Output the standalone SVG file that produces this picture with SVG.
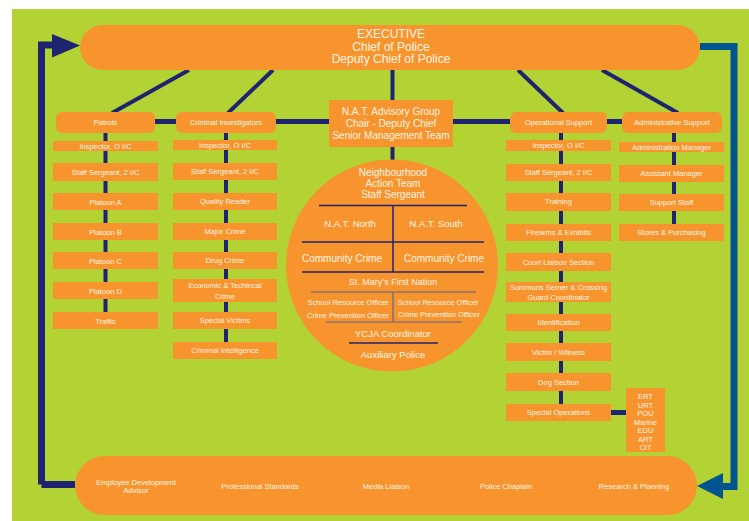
<svg xmlns="http://www.w3.org/2000/svg" width="749" height="521" viewBox="0 0 749 521">
<defs>
<style>
.bg{fill:#b3d335}
.box{fill:#f7942d}
.t{font-family:"Liberation Sans",Arial,sans-serif;fill:#fff4e6;text-anchor:middle}
.s{font-size:7.5px}
.m{font-size:10px}
.nv{stroke:#1e2470;fill:none}
.bl{stroke:#00548f;fill:none}
</style>
</defs>
<rect x="0" y="0" width="749" height="521" fill="#ffffff"/>
<rect class="bg" x="12" y="9" width="737" height="512"/>

<g id="connectors">
<path class="nv" d="M41.5 484.5 V45 H53" stroke-width="7"/>
<polygon points="52,34 80,45.5 52,57.5" fill="#1e2470"/>
<path class="nv" d="M75 484.5 H41.5" stroke-width="7"/>
<path class="bl" d="M700 46.5 H734 V486.5 H722" stroke-width="7"/>
<polygon points="723,473 697,486 723,499" fill="#00548f"/>
<g class="nv" stroke-width="4">
<line x1="189" y1="70" x2="112" y2="113"/>
<line x1="273" y1="70" x2="228" y2="113"/>
<line x1="392.5" y1="70" x2="392.5" y2="100"/>
<line x1="518" y1="70" x2="563" y2="113"/>
<line x1="602" y1="70" x2="678" y2="113"/>
<line x1="155" y1="121.5" x2="622" y2="121.5" stroke-width="5"/>
<line x1="392.5" y1="147" x2="392.5" y2="160"/>
<line x1="105.5" y1="133" x2="105.5" y2="312"/>
<line x1="226" y1="133" x2="226" y2="342"/>
<line x1="561" y1="133" x2="561" y2="404"/>
<line x1="674" y1="133" x2="674" y2="224"/>
<line x1="611" y1="412.5" x2="626" y2="412.5" stroke-width="5"/>
</g>
</g>

<g id="executive">
<rect class="box" x="80" y="25" width="620" height="45" rx="22.5"/>
<text class="t" x="391" y="38" font-size="12">EXECUTIVE</text>
<text class="t" x="391" y="50.5" font-size="12">Chief of Police</text>
<text class="t" x="391" y="63" font-size="12">Deputy Chief of Police</text>
</g>

<g id="patrols">
<rect class="box" x="56" y="112" width="99" height="21" rx="6"/>
<text class="t s" x="105.5" y="125">Patrols</text>
</g>
<g id="criminal-investigators">
<rect class="box" x="176" y="112" width="100" height="21" rx="6"/>
<text class="t s" x="226" y="125">Criminal Investigators</text>
</g>
<g id="nat-advisory">
<rect class="box" x="329" y="100" width="124" height="47"/>
<text class="t m" x="391" y="115">N.A.T. Advisory Group</text>
<text class="t m" x="391" y="127">Chair - Deputy Chief</text>
<text class="t m" x="391" y="139">Senior Management Team</text>
</g>
<g id="operational-support">
<rect class="box" x="510" y="112" width="97" height="21" rx="6"/>
<text class="t s" x="558.5" y="125">Operational Support</text>
</g>
<g id="administrative-support">
<rect class="box" x="622" y="112" width="100" height="21" rx="6"/>
<text class="t s" x="672" y="125">Administrative Support</text>
</g>

<g id="patrols-column">
<g id="p-inspector"><rect class="box" x="53" y="141" width="105" height="10"/><text class="t s" x="105.5" y="148.5">Inspector, O I/C</text></g>
<g id="p-staff"><rect class="box" x="53" y="163" width="105" height="18"/><text class="t s" x="105.5" y="174.5">Staff Sergeant, 2 I/C</text></g>
<g id="p-a"><rect class="box" x="53" y="193" width="105" height="17"/><text class="t s" x="105.5" y="204.5">Platoon A</text></g>
<g id="p-b"><rect class="box" x="53" y="223" width="105" height="17"/><text class="t s" x="105.5" y="234.5">Platoon B</text></g>
<g id="p-c"><rect class="box" x="53" y="252" width="105" height="17"/><text class="t s" x="105.5" y="263.5">Platoon C</text></g>
<g id="p-d"><rect class="box" x="53" y="282" width="105" height="17"/><text class="t s" x="105.5" y="293.5">Platoon D</text></g>
<g id="p-traffic"><rect class="box" x="53" y="312" width="105" height="17"/><text class="t s" x="105.5" y="323.5">Traffic</text></g>
</g>

<g id="ci-column">
<g id="c-inspector"><rect class="box" x="173" y="140" width="104" height="10"/><text class="t s" x="225" y="147.5">Inspector, O I/C</text></g>
<g id="c-staff"><rect class="box" x="173" y="163" width="104" height="17"/><text class="t s" x="225" y="174">Staff Sergeant, 2 I/C</text></g>
<g id="c-quality"><rect class="box" x="173" y="193" width="104" height="17"/><text class="t s" x="225" y="204">Quality Reader</text></g>
<g id="c-major"><rect class="box" x="173" y="223" width="104" height="17"/><text class="t s" x="225" y="234">Major Crime</text></g>
<g id="c-drug"><rect class="box" x="173" y="252" width="104" height="17"/><text class="t s" x="225" y="263">Drug Crime</text></g>
<g id="c-econ"><rect class="box" x="173" y="279" width="104" height="23"/><text class="t s" x="225" y="288">Economic &amp; Techincal</text><text class="t s" x="225" y="299">Crime</text></g>
<g id="c-special"><rect class="box" x="173" y="312" width="104" height="17"/><text class="t s" x="225" y="323">Special Victims</text></g>
<g id="c-intel"><rect class="box" x="173" y="342" width="104" height="17"/><text class="t s" x="225" y="353">Criminal Intelligence</text></g>
</g>

<g id="nat-circle">
<circle class="box" cx="392" cy="265.5" r="106"/>
<text class="t m" x="393" y="175.5">Neighbourhood</text>
<text class="t m" x="393" y="186.5">Action Team</text>
<text class="t m" x="393" y="197.5">Staff Sergeant</text>
<g class="nv" stroke-width="1.5">
<line x1="319" y1="205.5" x2="467" y2="205.5"/>
<line x1="393" y1="205.5" x2="393" y2="272"/>
<line x1="302" y1="242" x2="484" y2="242"/>
<line x1="302" y1="272" x2="484" y2="272"/>
<line x1="349" y1="343" x2="438" y2="343"/>
</g>
<g stroke="#5b6596" stroke-width="1.2" fill="none">
<line x1="311" y1="292" x2="476" y2="292"/>
<line x1="393" y1="292" x2="393" y2="322"/>
<line x1="326" y1="322" x2="462" y2="322"/>
</g>
<text class="t" x="350" y="226.5" font-size="9.5">N.A.T. North</text>
<text class="t" x="436" y="226.5" font-size="9.5">N.A.T. South</text>
<text class="t m" x="342" y="261.5">Community Crime</text>
<text class="t m" x="444" y="261.5">Community Crime</text>
<text class="t" x="393" y="284.5" font-size="9">St. Mary’s First Nation</text>
<text class="t s" x="348" y="304.5">School Resource Officer</text>
<text class="t s" x="438" y="304.5">School Resource Officer</text>
<text class="t s" x="348" y="317.5">Crime Prevention Officer</text>
<text class="t s" x="439" y="316.5">Crime Prevention Officer</text>
<text class="t" x="393" y="336.5" font-size="9.5">YCJA Coordinator</text>
<text class="t" x="393" y="357.5" font-size="9.5">Auxiliary Police</text>
</g>

<g id="op-column">
<g id="o-inspector"><rect class="box" x="506" y="140" width="105" height="11"/><text class="t s" x="558.5" y="147.5">Inspector, O I/C</text></g>
<g id="o-staff"><rect class="box" x="506" y="164" width="105" height="17"/><text class="t s" x="558.5" y="175">Staff Sergeant, 2 I/C</text></g>
<g id="o-training"><rect class="box" x="506" y="193" width="105" height="18"/><text class="t s" x="558.5" y="204">Training</text></g>
<g id="o-firearms"><rect class="box" x="506" y="224" width="105" height="17"/><text class="t s" x="558.5" y="235">Firearms &amp; Exhibits</text></g>
<g id="o-court"><rect class="box" x="506" y="253" width="105" height="18"/><text class="t s" x="558.5" y="264.5">Court Liaison Section</text></g>
<g id="o-summons"><rect class="box" x="506" y="282" width="105" height="20"/><text class="t s" x="558.5" y="290">Summons Serner &amp; Crossing</text><text class="t s" x="558.5" y="300">Guard Coordinator</text></g>
<g id="o-ident"><rect class="box" x="506" y="314" width="105" height="17"/><text class="t s" x="558.5" y="325">Identification</text></g>
<g id="o-victim"><rect class="box" x="506" y="343" width="105" height="18"/><text class="t s" x="558.5" y="354.5">Victim / Witness</text></g>
<g id="o-dog"><rect class="box" x="506" y="373" width="105" height="18"/><text class="t s" x="558.5" y="384.5">Dog Section</text></g>
<g id="o-special"><rect class="box" x="506" y="404" width="105" height="17"/><text class="t s" x="558.5" y="415">Special Operations</text></g>
</g>

<g id="special-units">
<rect class="box" x="626" y="388" width="39" height="64"/>
<text class="t s" x="645.5" y="399">ERT</text>
<text class="t s" x="645.5" y="407.5">URT</text>
<text class="t s" x="645.5" y="416">POU</text>
<text class="t s" x="645.5" y="424.5">Marine</text>
<text class="t s" x="645.5" y="433">EDU</text>
<text class="t s" x="645.5" y="441.5">ART</text>
<text class="t s" x="645.5" y="450">CIT</text>
</g>

<g id="admin-column">
<g id="a-manager"><rect class="box" x="619" y="142" width="105" height="10"/><text class="t s" x="671.5" y="149.5">Administration Manager</text></g>
<g id="a-assistant"><rect class="box" x="619" y="165" width="105" height="17"/><text class="t s" x="671.5" y="176">Assistant Manager</text></g>
<g id="a-support"><rect class="box" x="619" y="194" width="105" height="17"/><text class="t s" x="671.5" y="205">Support Staff</text></g>
<g id="a-stores"><rect class="box" x="619" y="224" width="105" height="17"/><text class="t s" x="671.5" y="235">Stores &amp; Purchasing</text></g>
</g>

<g id="staff-services">
<rect class="box" x="75" y="456" width="622" height="59" rx="29.5"/>
<text class="t s" x="136" y="484.5">Employee Development</text>
<text class="t s" x="136" y="493">Advisor</text>
<text class="t s" x="260" y="489">Professional Standards</text>
<text class="t s" x="386" y="489">Media Liaison</text>
<text class="t s" x="506" y="489">Police Chaplain</text>
<text class="t s" x="634" y="489">Research &amp; Planning</text>
</g>
</svg>
